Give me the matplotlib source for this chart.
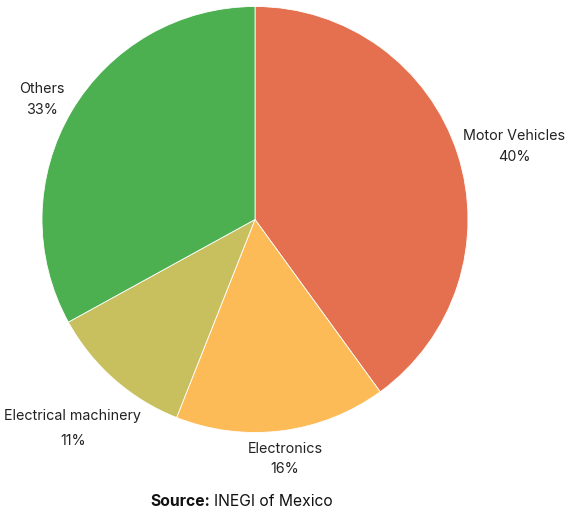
import numpy as np
import matplotlib.pyplot as plt

categories = ["Motor Vehicles", "Electronics", "Electrical machinery", "Others"]
shares = [40, 16, 11, 33]
colors = ["#E5704F", "#FDBB58", "#C8BF5E", "#4CAF50"]
# label placement: radial distance, vertical nudge (px), gap between lines (px)
label_dist = [1.279, 1.124, 1.293, 1.161]
label_nudge = [-11, -2, -2.5, -6]
label_gap = [21, 20, 25, 21]

plt.rcParams["font.family"] = ["Inter", "DejaVu Sans"]

fig = plt.figure(figsize=(5.7, 5.13), dpi=100)
W, H = 570, 513
cx, cy, r = 255, 219.5, 213
ax = fig.add_axes([(cx - r) / W, (H - cy - r) / H, 2 * r / W, 2 * r / H])

wedges, _ = ax.pie(shares, colors=colors, startangle=90, counterclock=False,
                   radius=1, wedgeprops=dict(edgecolor="white", linewidth=0.6))
ax.set_xlim(-1, 1)
ax.set_ylim(-1, 1)
ax.set_aspect("equal")
ax.axis("off")

for w, name, val, d, nu, g in zip(wedges, categories, shares,
                                  label_dist, label_nudge, label_gap):
    ang = np.deg2rad((w.theta1 + w.theta2) / 2)
    x, y = d * np.cos(ang), d * np.sin(ang)
    ax.annotate(name, (x, y), xytext=(0, nu + g / 2), textcoords="offset pixels",
                ha="center", va="center", fontsize=10.3, color="#222222",
                annotation_clip=False)
    ax.annotate(f"{val}%", (x, y), xytext=(0, nu - g / 2),
                textcoords="offset pixels", ha="center", va="center",
                fontsize=10.3, color="#222222", annotation_clip=False)

fig.text(210 / W, 1 - 502 / H, "Source:", ha="right", va="center",
         fontsize=11.3, fontweight="bold", color="#111111")
fig.text(214 / W, 1 - 502 / H, "INEGI of Mexico", ha="left", va="center",
         fontsize=11.3, color="#111111")

fig.savefig("out.png", dpi=100, facecolor="white")
